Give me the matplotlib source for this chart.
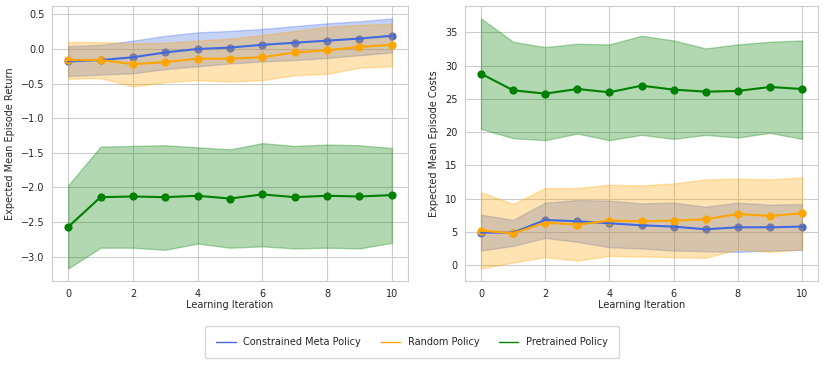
import numpy as np
import matplotlib
matplotlib.use("Agg")
import matplotlib.pyplot as plt
import seaborn as sns
from matplotlib.lines import Line2D

sns.set_style("whitegrid")
plt.rcParams['font.family'] = ['DejaVu Sans']

iters = np.arange(11)

# expected mean episode return
ret_meta = [-0.18, -0.16, -0.12, -0.05, 0.0, 0.02, 0.06, 0.09, 0.12, 0.15, 0.19]
ret_meta_hi = [0.04, 0.06, 0.12, 0.19, 0.24, 0.26, 0.29, 0.33, 0.37, 0.40, 0.44]
ret_meta_lo = [-0.39, -0.37, -0.35, -0.29, -0.25, -0.21, -0.18, -0.16, -0.13, -0.09, -0.05]

ret_rand = [-0.16, -0.16, -0.22, -0.19, -0.14, -0.14, -0.12, -0.05, -0.02, 0.03, 0.06]
ret_rand_hi = [0.10, 0.10, 0.08, 0.09, 0.12, 0.15, 0.20, 0.26, 0.32, 0.35, 0.36]
ret_rand_lo = [-0.43, -0.42, -0.54, -0.48, -0.45, -0.47, -0.45, -0.38, -0.36, -0.27, -0.25]

ret_pre = [-2.57, -2.14, -2.13, -2.14, -2.12, -2.16, -2.10, -2.14, -2.12, -2.13, -2.11]
ret_pre_hi = [-1.97, -1.41, -1.40, -1.39, -1.42, -1.45, -1.36, -1.40, -1.38, -1.39, -1.43]
ret_pre_lo = [-3.17, -2.87, -2.87, -2.90, -2.81, -2.87, -2.85, -2.88, -2.87, -2.88, -2.80]

# expected mean episode costs
cost_meta = [4.9, 4.9, 6.8, 6.6, 6.3, 6.0, 5.8, 5.4, 5.7, 5.7, 5.8]
cost_meta_hi = [7.6, 6.8, 9.4, 9.8, 9.7, 9.3, 9.4, 8.8, 9.4, 9.1, 9.2]
cost_meta_lo = [2.2, 2.9, 4.1, 3.5, 2.7, 2.5, 2.2, 2.1, 2.0, 2.2, 2.3]

cost_rand = [5.2, 4.8, 6.4, 6.1, 6.7, 6.6, 6.7, 6.9, 7.7, 7.4, 7.8]
cost_rand_hi = [11.0, 9.2, 11.6, 11.6, 12.1, 12.0, 12.3, 12.9, 13.0, 12.9, 13.2]
cost_rand_lo = [-0.5, 0.4, 1.2, 0.7, 1.4, 1.3, 1.2, 1.1, 2.4, 2.0, 2.4]

cost_pre = [28.8, 26.3, 25.8, 26.5, 26.0, 27.0, 26.4, 26.1, 26.2, 26.8, 26.5]
cost_pre_hi = [37.1, 33.6, 32.8, 33.3, 33.2, 34.5, 33.8, 32.6, 33.2, 33.6, 33.8]
cost_pre_lo = [20.5, 19.1, 18.8, 19.8, 18.8, 19.6, 19.0, 19.6, 19.2, 19.9, 19.0]

names = ["Constrained Meta Policy", "Random Policy", "Pretrained Policy"]
colors = ["royalblue", "orange", "green"]
fs = 7

fig = plt.figure(figsize=(8.3, 3.67), dpi=100)
ax1 = fig.add_axes([52/830, 1 - 281/367, 356/830, 275/367])
ax2 = fig.add_axes([465/830, 1 - 281/367, 353/830, 275/367])

def draw(ax, series):
    for (m, hi, lo), c in zip(series, colors):
        ax.scatter(iters, m, color=c, s=24, zorder=1)
        ax.fill_between(iters, lo, hi, color=c, alpha=0.3, zorder=1)
        ax.plot(iters, m, color=c, linewidth=1.5, zorder=2)
    ax.set_xlabel("Learning Iteration", fontsize=fs, labelpad=1)
    ax.tick_params(labelsize=fs, pad=2)
    ax.set_xticks([0, 2, 4, 6, 8, 10])

draw(ax1, [(ret_meta, ret_meta_hi, ret_meta_lo),
           (ret_rand, ret_rand_hi, ret_rand_lo),
           (ret_pre, ret_pre_hi, ret_pre_lo)])
ax1.set_ylabel("Expected Mean Episode Return", fontsize=fs)
ax1.set_yticks([-3.0, -2.5, -2.0, -1.5, -1.0, -0.5, 0.0, 0.5])

draw(ax2, [(cost_meta, cost_meta_hi, cost_meta_lo),
           (cost_rand, cost_rand_hi, cost_rand_lo),
           (cost_pre, cost_pre_hi, cost_pre_lo)])
ax2.set_ylabel("Expected Mean Episode Costs", fontsize=fs)
ax2.set_yticks([0, 5, 10, 15, 20, 25, 30, 35])

handles = [Line2D([0], [0], color=c, linewidth=1) for c in colors]
fig.legend(handles, names, loc="center", bbox_to_anchor=(412/830, 1 - 342/367),
           ncol=3, fontsize=fs, frameon=True, borderpad=1.1, columnspacing=2.0)

fig.savefig("out.png", dpi=100)
